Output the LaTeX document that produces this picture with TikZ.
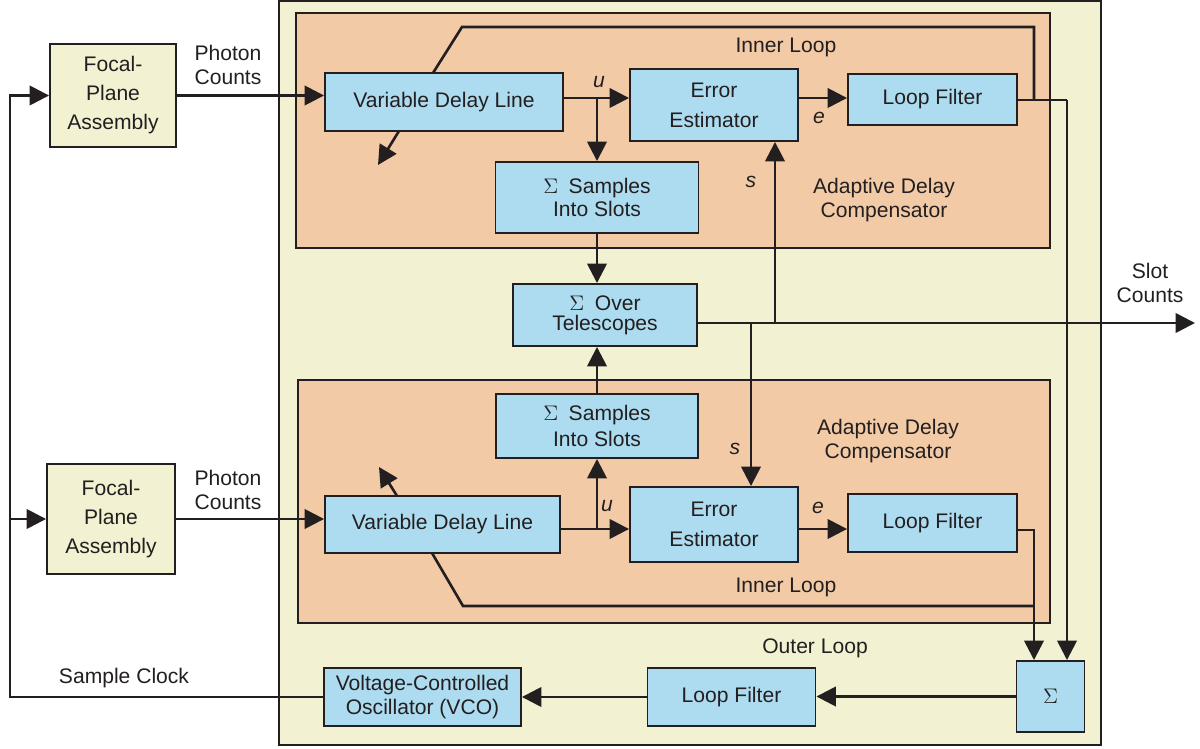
\documentclass[tikz,border=0pt]{standalone}
\usepackage{fontspec}
\setmainfont{Liberation Sans}
\usetikzlibrary{arrows.meta}
\usetikzlibrary{positioning}
\definecolor{amarillo}{HTML}{F2F1D2}
\definecolor{naranja}{HTML}{F2CBA6}
\definecolor{celeste}{HTML}{ADDCF0}
\definecolor{tinta}{HTML}{231F20}
\tikzset{
  flecha/.style={
    line width=1.5pt, draw=tinta,
    -{Triangle[length=11pt,width=11pt]}
  },
  linea/.style={line width=1.5pt, draw=tinta}
}

\begin{document}
\begin{tikzpicture}[x=0.02cm, y=-0.02cm, font=\fontsize{12}{14}\selectfont, text=tinta] % Estilos de nodos
\tikzstyle{bloque} = [rectangle, draw=tinta, line width=1.1pt, fill=celeste, align=center, inner sep=0pt] \tikzstyle{ensamble} = [bloque, fill=amarillo, font=\fontsize{12}{16.5}\selectfont] \tikzstyle{marco} = [draw=tinta, line width=1.5pt] \tikzstyle{etiqueta} = [align=center, inner sep=0pt]
\useasboundingbox (0,0) rectangle (1200,749);
% Marcos
\draw[marco, fill=amarillo] (279,1) rectangle (1101,745);
\draw[marco, fill=naranja] (296,13) rectangle (1050,248);
\draw[marco, fill=naranja] (298,380) rectangle (1050,623);
% Nodos de bloques
\node (fpa1) [ensamble, minimum width=2.52cm, minimum height=2.06cm] at (113,95.5) {Focal-\\Plane\\Assembly}; \node (fpa2) [ensamble, minimum width=2.56cm, minimum height=2.2cm] at (111,519) {Focal-\\Plane\\Assembly};
\node (vdl1) [bloque, minimum width=4.76cm, minimum height=1.16cm] at (444,102) {Variable Delay Line}; \node (ee1) [bloque, minimum width=3.36cm, minimum height=1.44cm, font=\fontsize{12}{17}\selectfont] at (714,105) {Error\\Estimator}; \node (lf1) [bloque, minimum width=3.38cm, minimum height=1.02cm] at (932.5,99.5) {Loop Filter}; \node (ss1) [bloque, minimum width=4.06cm, minimum height=1.42cm, font=\fontsize{12}{13.6}\selectfont] at (597,197.5) {$\Sigma$\enspace Samples\\Into Slots};
\node (ot) [bloque, minimum width=3.68cm, minimum height=1.24cm, font=\fontsize{12}{11.5}\selectfont] at (605,315) {$\Sigma$\enspace Over\\Telescopes};
\node (ss2) [bloque, minimum width=4.04cm, minimum height=1.28cm, font=\fontsize{12}{14.5}\selectfont] at (597,426) {$\Sigma$\enspace Samples\\Into Slots}; \node (vdl2) [bloque, minimum width=4.7cm, minimum height=1.14cm] at (442.5,524.5) {Variable Delay Line}; \node (ee2) [bloque, minimum width=3.36cm, minimum height=1.5cm, font=\fontsize{12}{17}\selectfont] at (714,524.5) {Error\\Estimator}; \node (lf2) [bloque, minimum width=3.38cm, minimum height=1.16cm] at (932.5,523) {Loop Filter};
\node (sig) [bloque, minimum width=1.36cm, minimum height=1.42cm] at (1050.5,696.5) {$\Sigma$}; \node (lf3) [bloque, minimum width=3.36cm, minimum height=1.16cm] at (731.5,697) {Loop Filter}; \node (vco) [bloque, minimum width=3.94cm, minimum height=1.16cm] at (422.5,697) {Voltage-Controlled\\Oscillator (VCO)};
% Etiquetas
\node (pc1) [etiqueta] at (228,65) {Photon\\Counts}; \node (pc2) [etiqueta] at (228,490) {Photon\\Counts}; \node (clk) [etiqueta] at (124,678) {Sample Clock}; \node (slot) [etiqueta] at (1150,283) {Slot\\Counts};
\node (il1) [etiqueta] at (786,47) {Inner Loop}; \node (il2) [etiqueta] at (786,587) {Inner Loop}; \node (ol) [etiqueta] at (815,648) {Outer Loop}; \node (adc1) [etiqueta] at (884,200) {Adaptive Delay\\Compensator}; \node (adc2) [etiqueta] at (888,441) {Adaptive Delay\\Compensator};
\node (lu1) [etiqueta] at (599,82) {\itshape u}; \node (le1) [etiqueta] at (819,118) {\itshape e}; \node (ls1) [etiqueta] at (751,182) {\itshape s}; \node (ls2) [etiqueta] at (735,449) {\itshape s}; \node (lu2) [etiqueta] at (607,506) {\itshape u}; \node (le2) [etiqueta] at (818,508) {\itshape e};
% Puntos de paso
\coordinate (izq) at (10,697); \coordinate (u1) at (597,98); \coordinate (u2) at (597,529); \coordinate (r1) at (1034,100); \coordinate (s1) at (1067,100); \coordinate (r2) at (1034,530); \coordinate (fin) at (1195,323); \coordinate (sa) at (775,323); \coordinate (sb) at (751,323);
\coordinate (k1) at (462,27); \coordinate (k2) at (433,73); \coordinate (k3) at (399,131); \coordinate (k4) at (378,165); \coordinate (k5) at (463,606); \coordinate (k6) at (432,553); \coordinate (k7) at (397,496); \coordinate (k8) at (379,467);
% Flechas de entrada y reloj
\draw[flecha] (fpa1.east) -- (fpa1.east -| vdl1.west); \draw[flecha] (fpa2.east) -- (fpa2.east -| vdl2.west);
\draw[flecha] (vco.west) -- (izq) |- (fpa1.west); \draw[flecha] (izq |- fpa2.west) -- (fpa2.west);
% Compensador superior
\draw[flecha] (vdl1.east |- u1) -- (u1 -| ee1.west); \draw[flecha] (u1) -- (ss1.north); \draw[flecha] (ee1.east |- u1) -- (u1 -| lf1.west);
\draw[linea] (lf1.east |- r1) -- (s1); \draw[flecha] (s1) -- (s1 |- sig.north); \draw[linea] (r1) -- (r1 |- k1) -- (k1) -- (k2); \draw[flecha] (k3) -- (k4);
% Suma sobre telescopios
\draw[flecha] (ss1.south) -- (ss1.south |- ot.north); \draw[flecha] (ss2.north) -- (ss2.north |- ot.south); \draw[flecha] (ot.east |- fin) -- (fin);
\draw[flecha] (sa) -- (sa |- ee1.south); \draw[flecha] (sb) -- (sb |- ee2.north);
% Compensador inferior
\draw[flecha] (vdl2.east |- u2) -- (u2 -| ee2.west); \draw[flecha] (u2) -- (ss2.south); \draw[flecha] (ee2.east |- u2) -- (u2 -| lf2.west);
\draw[flecha] (lf2.east |- r2) -- (r2) -- (r2 |- sig.north); \draw[linea] (r2 |- k5) -- (k5) -- (k6); \draw[flecha] (k7) -- (k8);
% Lazo exterior
\draw[flecha] (sig.west) -- (sig.west -| lf3.east); \draw[flecha] (lf3.west) -- (lf3.west -| vco.east);
\end{tikzpicture}
\end{document}
